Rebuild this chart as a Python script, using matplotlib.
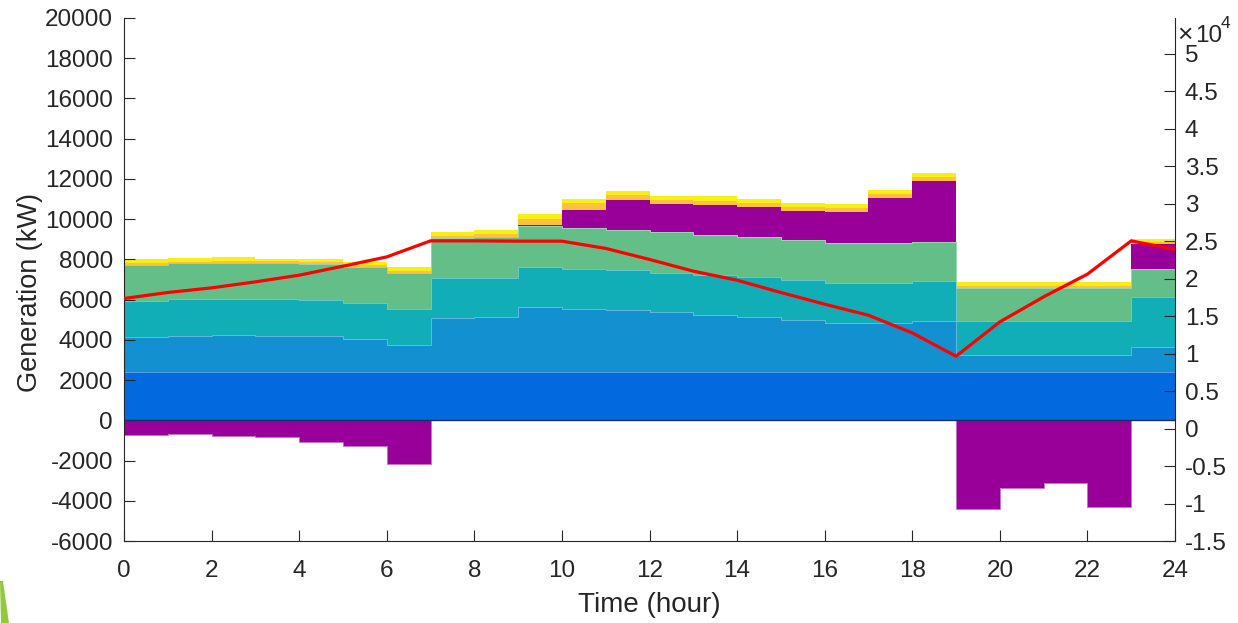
import matplotlib
matplotlib.use("Agg")
import matplotlib.pyplot as plt
import numpy as np
from matplotlib.patches import Polygon

# ---------------- data ----------------
hours = list(range(24))
base = [2420] * 24
blue = [1737, 1786, 1806, 1771, 1755, 1622, 1338, 2660, 2700, 3228, 3129, 3063,
        2949, 2800, 2701, 2566, 2417, 2417, 2500, 811, 811, 811, 811, 1239]
teal = [1789, 1809, 1819, 1824, 1825, 1789, 1790, 2000, 1969, 1989, 1988, 2004,
        1969, 1989, 2018, 1989, 1974, 1974, 1990, 1713, 1713, 1713, 1713, 2456]
green = [1790, 1790, 1790, 1790, 1790, 1805, 1790, 1980, 2010, 2038, 2023, 1989,
         2008, 2003, 1959, 1989, 1988, 2004, 1971, 1649, 1649, 1649, 1649, 1407]
storage = [-716, -681, -780, -845, -1094, -1293, -2172, 0, 0, 25, 895, 1461,
           1392, 1491, 1506, 1459, 1574, 2251, 3032, -4425, -3380, -3102, -4326, 1243]
orange = [100, 80, 100, 90, 90, 90, 100, 100, 150, 293, 332, 249,
          214, 215, 215, 197, 197, 170, 168, 84, 84, 84, 84, 85]
yellow = [169, 169, 170, 130, 130, 142, 165, 190, 200, 248, 200, 214,
          214, 218, 168, 183, 200, 213, 199, 183, 183, 183, 183, 148]
line_hours = list(range(25))
line_vals = [1.735, 1.815, 1.877, 1.957, 2.046, 2.166, 2.290, 2.504, 2.504, 2.50,
             2.50, 2.403, 2.256, 2.10, 1.979, 1.815, 1.659, 1.512, 1.276, 0.965,
             1.423, 1.757, 2.06, 2.504, 2.389]  # x 10^4

colors = {
    "base": "#0369DE",
    "blue": "#1290D0",
    "teal": "#12AEB8",
    "green": "#64BE88",
    "storage": "#990099",
    "orange": "#FDC040",
    "yellow": "#F8F010",
}

plt.rcParams['font.family'] = ['Liberation Sans', 'DejaVu Sans']
plt.rcParams['axes.unicode_minus'] = False
W, H = 1238, 623
fig = plt.figure(figsize=(W / 100, H / 100), dpi=100)
ax = fig.add_axes([124 / W, 1 - 541 / H, (1175 - 124) / W, (541 - 18) / H])


def lighten(c, f=0.35):
    rgb = np.array(matplotlib.colors.to_rgb(c))
    return tuple(rgb + (1 - rgb) * f)


edges = np.arange(25)
pos_bottom = np.zeros(24)
neg_bottom = np.zeros(24)
series = [("base", base), ("blue", blue), ("teal", teal), ("green", green),
          ("storage", storage), ("orange", orange), ("yellow", yellow)]
outlines = []
for name, vals in series:
    v = np.array(vals, dtype=float)
    pos = np.where(v > 0, v, 0)
    neg = np.where(v < 0, v, 0)
    c = colors[name]
    # stacked bars of width 1 drawn as filled steps (no seams between bars)
    ax.stairs(pos_bottom + pos, edges, baseline=pos_bottom.copy(), fill=True,
              color=c, lw=0)
    if np.any(neg < 0):
        ax.stairs(neg_bottom + neg, edges, baseline=neg_bottom.copy(), fill=True,
                  color=c, lw=0)
        outlines.append((neg_bottom + neg, lighten(c, 0.45)))
    pos_bottom += pos
    neg_bottom += neg
    if name in ("base", "blue", "teal", "green"):
        outlines.append((pos_bottom.copy(), lighten(c, 0.35)))

for top, c in outlines:
    ax.stairs(top, edges, color=c, lw=0.7, baseline=None, zorder=2.5)

ax.axhline(0, color='#1b2f5a', lw=1.0, zorder=3)

tc = '#262626'
ax.set_xlim(0, 24)
ax.set_ylim(-6000, 20000)
ax.set_xticks(range(0, 25, 2))
ax.set_yticks(range(-6000, 20001, 2000))
ax.tick_params(axis='both', direction='in', length=8, width=0.8, colors='#262626',
               labelsize=17.5, labelcolor=tc)
ax.tick_params(axis='x', pad=14)
ax.tick_params(axis='y', pad=8)
ax.spines['top'].set_visible(False)
ax.spines['right'].set_visible(False)
for s in ['left', 'bottom']:
    ax.spines[s].set_color('#262626')
    ax.spines[s].set_linewidth(0.8)
ax.set_xlabel('Time (hour)', fontsize=20, color=tc)
ax.set_ylabel('Generation (kW)', fontsize=19.5, color=tc)
ax.xaxis.set_label_coords(0.5, (541 - 605) / 523, transform=ax.transAxes)
ax.yaxis.set_label_coords((30 - 124) / 1051, (541 - 292) / 523, transform=ax.transAxes)
ax.xaxis.label.set_va('center')
ax.yaxis.label.set_va('center')

ax2 = ax.twinx()
ax2.plot(line_hours, np.array(line_vals) * 1e4, color='#FF0000', lw=2.3,
         solid_joinstyle='round')
ax2.set_ylim(-15000, 54770)
ax2.set_yticks(np.arange(-15000, 50001, 5000))
ax2.set_yticklabels(['%g' % (t / 1e4) for t in np.arange(-15000, 50001, 5000)])
ax2.tick_params(axis='y', direction='in', length=8, width=0.8, colors='#262626',
                labelsize=17.5, labelcolor=tc, pad=7)
ax2.spines['top'].set_visible(False)
ax2.spines['left'].set_visible(False)
ax2.spines['bottom'].set_visible(False)
ax2.spines['right'].set_color('#262626')
ax2.spines['right'].set_linewidth(0.8)

# exponent label
fig.text(1177 / W, 1 - 42 / H, '\u00d7', fontsize=19, color=tc, va='baseline', ha='left')
fig.text(1195 / W, 1 - 42 / H, '10', fontsize=17.5, color=tc, va='baseline', ha='left')
fig.text(1221 / W, 1 - 28 / H, '4', fontsize=12.5, color=tc, va='baseline', ha='left')

# decorative green sliver at bottom-left
poly = Polygon([(0 / W, 1 - 581 / H), (3 / W, 1 - 581 / H), (9 / W, 1 - 623 / H),
                (1 / W, 1 - 623 / H)], closed=True, transform=fig.transFigure,
               facecolor='#95C93D', edgecolor='none')
fig.patches.append(poly)

fig.savefig('out.png', dpi=100)
